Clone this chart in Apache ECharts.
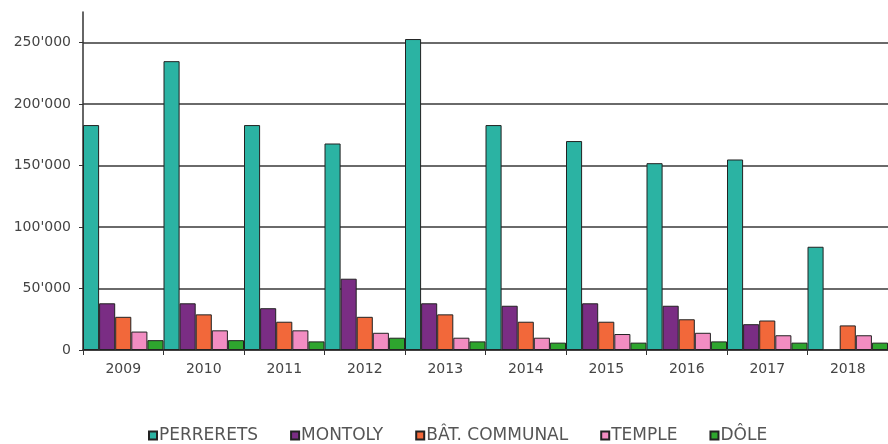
<!DOCTYPE html>
<html><head><meta charset="utf-8">
<script src="https://cdn.jsdelivr.net/npm/echarts@6/dist/echarts.min.js"></script>
<style>html,body{margin:0;padding:0;background:#fff}#c{width:888px;height:444px}</style>
</head><body><div id="c"></div>
<script>
const years = ['2009','2010','2011','2012','2013','2014','2015','2016','2017','2018'];
const perrerets = [183000,235000,183000,168000,253000,183000,170000,152000,155000,84000];
const montoly   = [38000,38000,34000,58000,38000,36000,38000,36000,21000,null];
const batCommunal = [27000,29000,23000,27000,29000,23000,23000,25000,24000,20000];
const temple    = [15000,16000,16000,14000,10000,10000,13000,14000,12000,12000];
const dole      = [8000,8000,7000,10000,7000,6000,6000,7000,6000,6000];
const seriesNames = ['PERRERETS','MONTOLY','BÂT. COMMUNAL','TEMPLE','DÔLE'];
const seriesData = [perrerets, montoly, batCommunal, temple, dole];
const colors = ['#2BB3A3','#7A2D84','#F2683A','#F28DC2','#2EA52E'];

const chart = echarts.init(document.getElementById('c'));
chart.setOption({
  animation: false,
  backgroundColor: '#fff',
  textStyle: {fontFamily: 'DejaVu Sans, sans-serif'},
  legend: {
    top: 427, left: 148, padding: 0,
    icon: 'rect', itemWidth: 8, itemHeight: 8, itemGap: 32,
    textStyle: {fontSize: 17, color: '#555', padding: [0,0,0,-3]},
    data: seriesNames
  },
  grid: {left: 83, right: -5, top: 12, bottom: 94},
  xAxis: {
    type: 'category', data: years,
    axisLine: {lineStyle: {color: '#333', width: 1.5}},
    axisTick: {show: true, length: 5, lineStyle: {color: '#333'}},
    axisLabel: {fontSize: 14, color: '#444', margin: 12}
  },
  yAxis: {
    type: 'value', min: 0, max: 275000, interval: 50000,
    axisLine: {show: true, lineStyle: {color: '#333', width: 1.5}},
    axisTick: {show: true, length: 4, lineStyle: {color: '#333'}},
    axisLabel: {fontSize: 14, color: '#444', margin: 12, showMaxLabel: false,
      formatter: v => String(v).replace(/\B(?=(\d{3})+(?!\d))/g, "'")},
    splitLine: {showMaxLine: false, lineStyle: {color: '#6a6a6a', width: 2}}
  },
  series: seriesNames.map((n, i) => ({
    name: n, type: 'bar', data: seriesData[i],
    barGap: '0%', barCategoryGap: '0%',
    itemStyle: {color: colors[i], borderColor: '#222', borderWidth: 1}
  }))
});
</script></body></html>
